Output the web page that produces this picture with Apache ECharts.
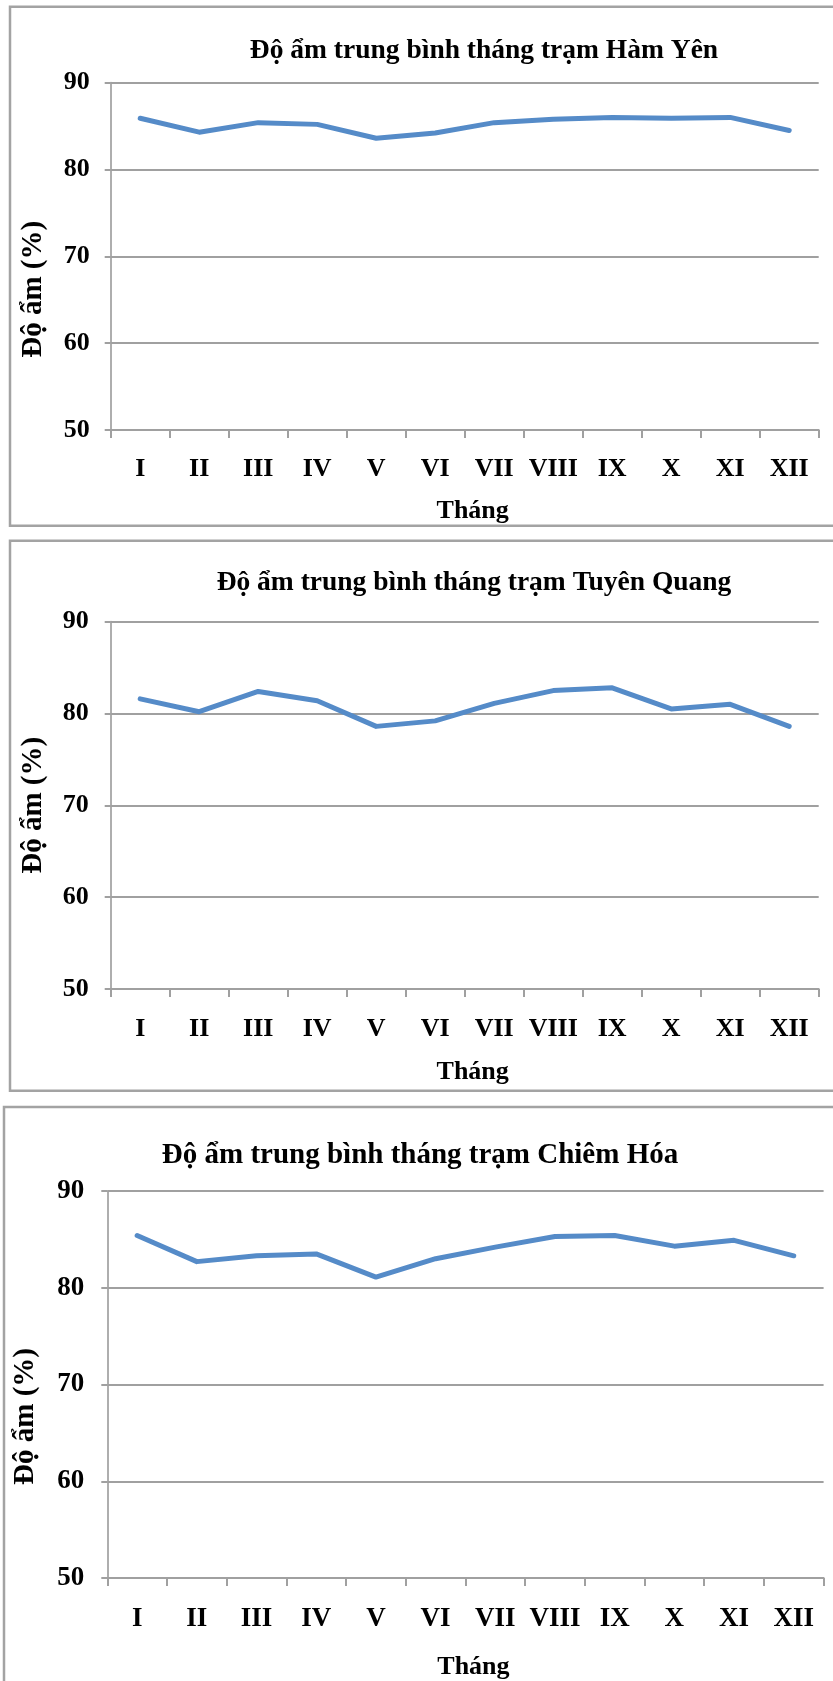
<!DOCTYPE html>
<html>
<head>
<meta charset="utf-8">
<script src="https://cdn.jsdelivr.net/npm/echarts@6/dist/echarts.min.js"></script>
<style>
  html, body { margin: 0; padding: 0; background: #fff; }
  #chart { width: 833px; height: 1681px; }
</style>
</head>
<body>
<div id="chart"></div>
<script>
// ---- Data ----
const categories = ['I', 'II', 'III', 'IV', 'V', 'VI', 'VII', 'VIII', 'IX', 'X', 'XI', 'XII'];
const hamYen     = [85.9, 84.3, 85.4, 85.2, 83.6, 84.2, 85.4, 85.8, 86.0, 85.9, 86.0, 84.5];
const tuyenQuang = [81.6, 80.2, 82.4, 81.4, 78.6, 79.2, 81.1, 82.5, 82.8, 80.5, 81.0, 78.6];
const chiemHoa   = [85.4, 82.7, 83.3, 83.5, 81.1, 83.0, 84.2, 85.3, 85.4, 84.3, 84.9, 83.3];
const titles = [
  'Độ ẩm trung bình tháng trạm Hàm Yên',
  'Độ ẩm trung bình tháng trạm Tuyên Quang',
  'Độ ẩm trung bình tháng trạm Chiêm Hóa'
];
const yAxisName = 'Độ ẩm (%)';
const xAxisName = 'Tháng';
const yMin = 50, yMax = 90, yStep = 10;
const seriesData = [hamYen, tuyenQuang, chiemHoa];

// ---- Layout (positions / styles only) ----
const FONT = '"Liberation Serif", "Times New Roman", serif';
const GRID_COLOR = '#a0a0a0';
const LINE_COLOR = '#558bc8';
const panels = [
  { left: 110.7, top: 82.7, right: 14.3, height: 347.3, titleCenter: 484, titleTop: 37, titleSize: 27.5, labelSize: 26,
    xMargin: 26, yMargin: 21, namePadRight: 66, nameGap: 63, xNameGap: 68, box: [10, 6.7, 900, 519] },
  { left: 110.7, top: 621.7, right: 14.3, height: 367.3, titleCenter: 474, titleTop: 569, titleSize: 27.5, labelSize: 26,
    xMargin: 27, yMargin: 22, namePadRight: 0, nameGap: 63, xNameGap: 70, box: [10, 540.7, 900, 550] },
  { left: 107.3, top: 1191, right: 9.4, height: 389.7, titleCenter: 420, titleTop: 1141.5, titleSize: 29, labelSize: 27,
    xMargin: 28, yMargin: 23, namePadRight: 64, nameGap: 67, xNameGap: 76, box: [4, 1107, 900, 700] }
];

function textWidth(txt, size) {
  const c = document.createElement('canvas').getContext('2d');
  c.font = 'bold ' + size + 'px ' + FONT;
  return c.measureText(txt).width;
}

const chart = echarts.init(document.getElementById('chart'), null, { renderer: 'canvas' });

const option = {
  backgroundColor: '#ffffff',
  animation: false,
  title: panels.map((p, i) => ({
    text: titles[i],
    left: p.titleCenter - textWidth(titles[i], p.titleSize) / 2,
    top: p.titleTop,
    padding: 0,
    textStyle: { fontFamily: FONT, fontWeight: 'bold', fontSize: p.titleSize, lineHeight: p.titleSize, color: '#000' }
  })),
  graphic: panels.map(p => ({
    type: 'rect',
    silent: true,
    z: -1,
    shape: { x: p.box[0], y: p.box[1], width: p.box[2], height: p.box[3] },
    style: { fill: 'none', stroke: '#a3a3a3', lineWidth: 2.5 }
  })),
  grid: panels.map(p => ({ left: p.left, top: p.top, right: p.right, height: p.height, containLabel: false })),
  xAxis: panels.map((p, i) => ({
    type: 'category',
    gridIndex: i,
    data: categories,
    boundaryGap: true,
    name: xAxisName,
    nameLocation: 'middle',
    nameGap: p.xNameGap,
    nameTextStyle: { fontFamily: FONT, fontWeight: 'bold', fontSize: 26, lineHeight: 26, color: '#000', padding: [0, 0, 0, 16] },
    axisLine: { show: true, lineStyle: { color: GRID_COLOR, width: 2 } },
    axisTick: { show: true, length: 8, alignWithLabel: false, lineStyle: { color: GRID_COLOR, width: 2 } },
    axisLabel: { fontFamily: FONT, fontWeight: 'bold', fontSize: p.labelSize, lineHeight: p.labelSize, color: '#000',
                 margin: p.xMargin, interval: 0 },
    splitLine: { show: false }
  })),
  yAxis: panels.map((p, i) => ({
    type: 'value',
    gridIndex: i,
    min: yMin,
    max: yMax,
    interval: yStep,
    name: yAxisName,
    nameLocation: 'middle',
    nameGap: p.nameGap,
    nameRotate: 90,
    nameTextStyle: { fontFamily: FONT, fontWeight: 'bold', fontSize: 29, lineHeight: 29, color: '#000',
                     padding: [0, p.namePadRight, 0, 0] },
    axisLine: { show: true, lineStyle: { color: GRID_COLOR, width: 1.7 } },
    axisTick: { show: true, length: 6, lineStyle: { color: GRID_COLOR, width: 2 } },
    axisLabel: { fontFamily: FONT, fontWeight: 'bold', fontSize: p.labelSize, color: '#000', margin: p.yMargin,
                 padding: [8, 0, 0, 0] },
    splitLine: { show: true, lineStyle: { color: GRID_COLOR, width: 2 } }
  })),
  series: seriesData.map((d, i) => ({
    type: 'line',
    xAxisIndex: i,
    yAxisIndex: i,
    data: d,
    symbol: 'none',
    smooth: false,
    lineStyle: { color: LINE_COLOR, width: 5, cap: 'round', join: 'round' },
    z: 3
  }))
};

chart.setOption(option);
</script>
</body>
</html>
